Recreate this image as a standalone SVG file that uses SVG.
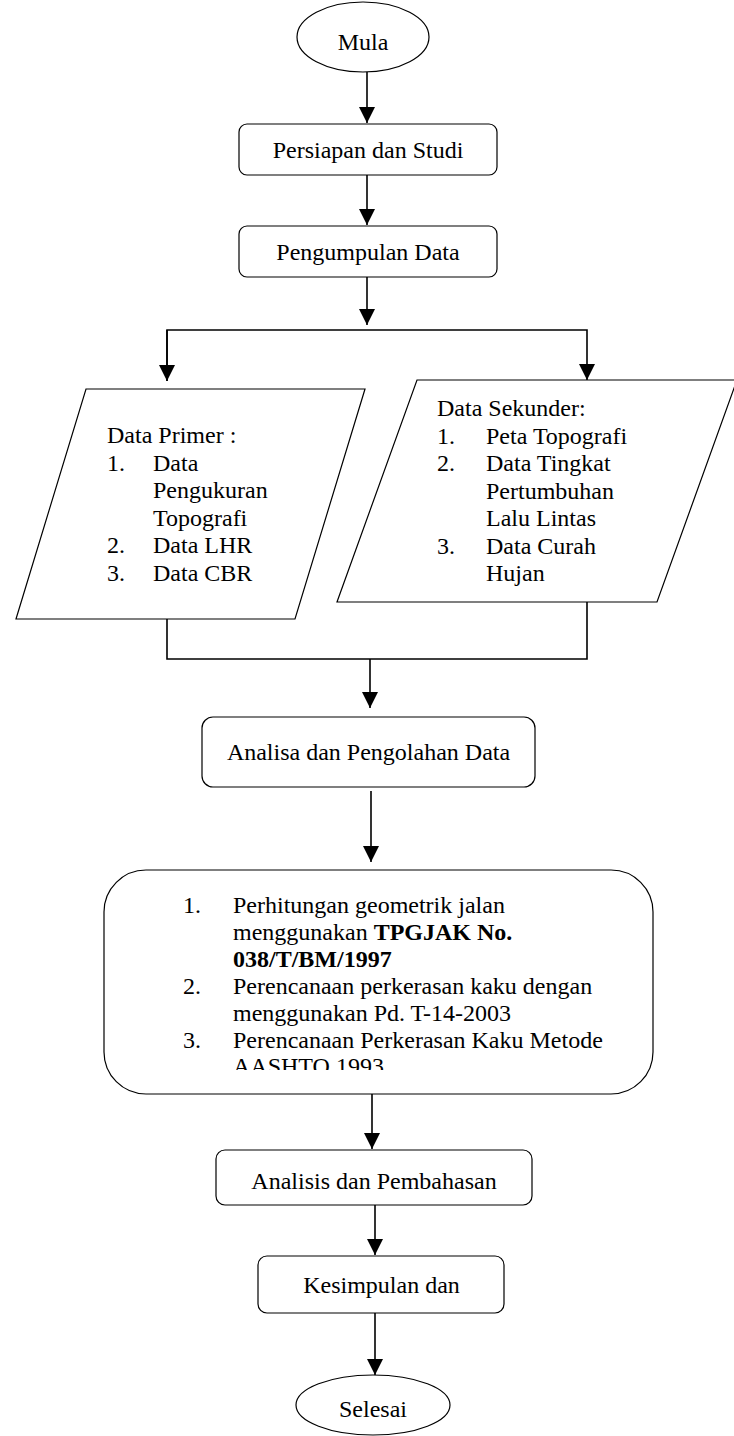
<svg xmlns="http://www.w3.org/2000/svg" width="734" height="1436" viewBox="0 0 734 1436">
<style>
text{font-family:"Liberation Serif","Times New Roman",serif;font-size:24px;fill:#000}
.c{text-anchor:middle}
.b{font-weight:bold}
.shape{fill:#fff;stroke:#000;stroke-width:1.2}
.conn{fill:none;stroke:#000;stroke-width:1.6}
</style>
<defs>
<marker id="ah" viewBox="0 0 16 16" refX="16" refY="8" markerWidth="16" markerHeight="16" markerUnits="userSpaceOnUse" orient="auto">
<path d="M0,0 L16,8 L0,16 z" fill="#000"/>
</marker>
<clipPath id="bigclip"><rect x="104" y="871" width="549" height="199"/></clipPath>
</defs>
<g id="connectors">
<line class="conn" x1="367" y1="72" x2="367" y2="123" marker-end="url(#ah)"/>
<line class="conn" x1="367" y1="175" x2="367" y2="225" marker-end="url(#ah)"/>
<line class="conn" x1="367" y1="277" x2="367" y2="325" marker-end="url(#ah)"/>
<polyline class="conn" points="167,381 167,330 587,330 587,380" marker-end="url(#ah)"/>
<line class="conn" x1="167" y1="330" x2="167" y2="381" marker-end="url(#ah)"/>
<polyline class="conn" points="167,619 167,659 587,659 587,602"/>
<line class="conn" x1="370" y1="659" x2="370" y2="708" marker-end="url(#ah)"/>
<line class="conn" x1="371" y1="791" x2="371" y2="862" marker-end="url(#ah)"/>
<line class="conn" x1="372" y1="1094" x2="372" y2="1149" marker-end="url(#ah)"/>
<line class="conn" x1="375" y1="1205" x2="375" y2="1255" marker-end="url(#ah)"/>
<line class="conn" x1="375" y1="1313" x2="375" y2="1375" marker-end="url(#ah)"/>
</g>
<g id="mula">
<ellipse class="shape" cx="363" cy="37" rx="66" ry="35"/>
<text class="c" x="363" y="50">Mula</text>
</g>
<g id="persiapan">
<rect class="shape" x="239" y="124" width="258" height="51" rx="8"/>
<text class="c" x="368" y="158">Persiapan dan Studi</text>
</g>
<g id="pengumpulan">
<rect class="shape" x="239" y="226" width="258" height="51" rx="8"/>
<text class="c" x="368" y="260">Pengumpulan Data</text>
</g>
<g id="data-primer">
<polygon class="shape" points="86,389 365,389 295,619 16,619"/>
<text x="107" y="443">Data Primer :</text>
<text x="107" y="470.5">1.</text><text x="153" y="470.5">Data</text>
<text x="153" y="498">Pengukuran</text>
<text x="153" y="525.5">Topografi</text>
<text x="107" y="553">2.</text><text x="153" y="553">Data LHR</text>
<text x="107" y="580.5">3.</text><text x="153" y="580.5">Data CBR</text>
</g>
<g id="data-sekunder">
<polygon class="shape" points="417,380 737,380 657,602 337,602"/>
<text x="437" y="416">Data Sekunder:</text>
<text x="437" y="443.5">1.</text><text x="486" y="443.5">Peta Topografi</text>
<text x="437" y="471">2.</text><text x="486" y="471">Data Tingkat</text>
<text x="486" y="498.5">Pertumbuhan</text>
<text x="486" y="526">Lalu Lintas</text>
<text x="437" y="553.5">3.</text><text x="486" y="553.5">Data Curah</text>
<text x="486" y="581">Hujan</text>
</g>
<g id="analisa">
<rect class="shape" x="202" y="717" width="333" height="70" rx="11"/>
<text class="c" x="368.5" y="760">Analisa dan Pengolahan Data</text>
</g>
<g id="perhitungan">
<rect class="shape" x="104" y="870" width="549" height="224" rx="42"/>
<text x="183" y="913">1.</text><text x="233" y="913">Perhitungan geometrik jalan</text>
<text x="233" y="940">menggunakan <tspan class="b">TPGJAK No.</tspan></text>
<text class="b" x="233" y="967">038/T/BM/1997</text>
<text x="183" y="994">2.</text><text x="233" y="994">Perencanaan perkerasan kaku dengan</text>
<text x="233" y="1021">menggunakan Pd. T-14-2003</text>
<text x="183" y="1048">3.</text><text x="233" y="1048">Perencanaan Perkerasan Kaku Metode</text>
<text x="233" y="1074" clip-path="url(#bigclip)">AASHTO 1993</text>
</g>
<g id="analisis">
<rect class="shape" x="216" y="1150" width="316" height="55" rx="9"/>
<text class="c" x="374" y="1189">Analisis dan Pembahasan</text>
</g>
<g id="kesimpulan">
<rect class="shape" x="258" y="1256" width="246" height="57" rx="9"/>
<text class="c" x="381.5" y="1293">Kesimpulan dan</text>
</g>
<g id="selesai">
<ellipse class="shape" cx="373" cy="1405" rx="77" ry="30"/>
<text class="c" x="373" y="1417">Selesai</text>
</g>
</svg>
